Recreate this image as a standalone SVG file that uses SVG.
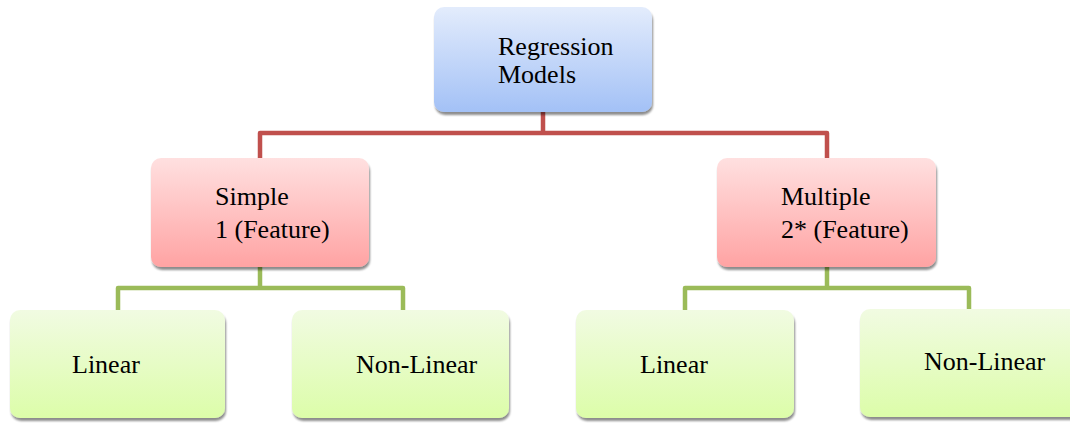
<svg xmlns="http://www.w3.org/2000/svg" width="1070" height="424" viewBox="0 0 1070 424">
<defs>
<linearGradient id="gBlue" x1="0" y1="0" x2="0" y2="1"><stop offset="0" stop-color="#e3ecfc"/><stop offset="1" stop-color="#a3c1f6"/></linearGradient>
<linearGradient id="gRed" x1="0" y1="0" x2="0" y2="1"><stop offset="0" stop-color="#ffe0e0"/><stop offset="1" stop-color="#ffa3a3"/></linearGradient>
<linearGradient id="gGreen" x1="0" y1="0" x2="0" y2="1"><stop offset="0" stop-color="#f1fbe2"/><stop offset="1" stop-color="#dcfda9"/></linearGradient>
<filter id="sh" x="-5%" y="-5%" width="112%" height="118%"><feGaussianBlur in="SourceAlpha" stdDeviation="1.2"/><feOffset dx="1" dy="3"/><feComponentTransfer><feFuncA type="linear" slope="0.45"/></feComponentTransfer><feMerge><feMergeNode/><feMergeNode in="SourceGraphic"/></feMerge></filter>
</defs>
<style>
text{font-family:"Liberation Serif","Times New Roman",serif;font-size:26px;fill:#000}
.b{fill:url(#gBlue);filter:url(#sh)}
.r{fill:url(#gRed);filter:url(#sh)}
.g{fill:url(#gGreen);filter:url(#sh)}
.cr{fill:none;stroke:#c0504d;stroke-width:4.5;stroke-linejoin:round}
.cg{fill:none;stroke:#9bbb59;stroke-width:4.5;stroke-linejoin:round}
</style>
<rect width="1070" height="424" fill="#fff"/>
<g id="connectors">
<path class="cr" d="M543,110 V133 H260 V160 M543,133 H827 V160"/>
<path class="cg" d="M260,265 V288 H118 V312 M260,288 H403 V312"/>
<path class="cg" d="M827,265 V288 H685 V312 M827,288 H969 V311"/>
</g>
<g id="root"><rect class="b" x="434" y="7" width="218" height="105" rx="10"/><text x="498" y="55">Regression</text><text x="498" y="83">Models</text></g>
<g id="simple"><rect class="r" x="151" y="158" width="218" height="109" rx="10"/><text x="215" y="205">Simple</text><text x="215" y="238">1 (Feature)</text></g>
<g id="multiple"><rect class="r" x="717" y="158" width="219" height="109" rx="10"/><text x="781" y="205">Multiple</text><text x="781" y="238">2* (Feature)</text></g>
<g id="linear1"><rect class="g" x="10" y="310" width="215" height="108" rx="10"/><text x="72" y="373">Linear</text></g>
<g id="nonlinear1"><rect class="g" x="292" y="310" width="217" height="108" rx="10"/><text x="356" y="373">Non-Linear</text></g>
<g id="linear2"><rect class="g" x="576" y="310" width="218" height="108" rx="10"/><text x="640" y="373">Linear</text></g>
<g id="nonlinear2"><rect class="g" x="860" y="309" width="225" height="108" rx="10"/><text x="924" y="370">Non-Linear</text></g>
</svg>
